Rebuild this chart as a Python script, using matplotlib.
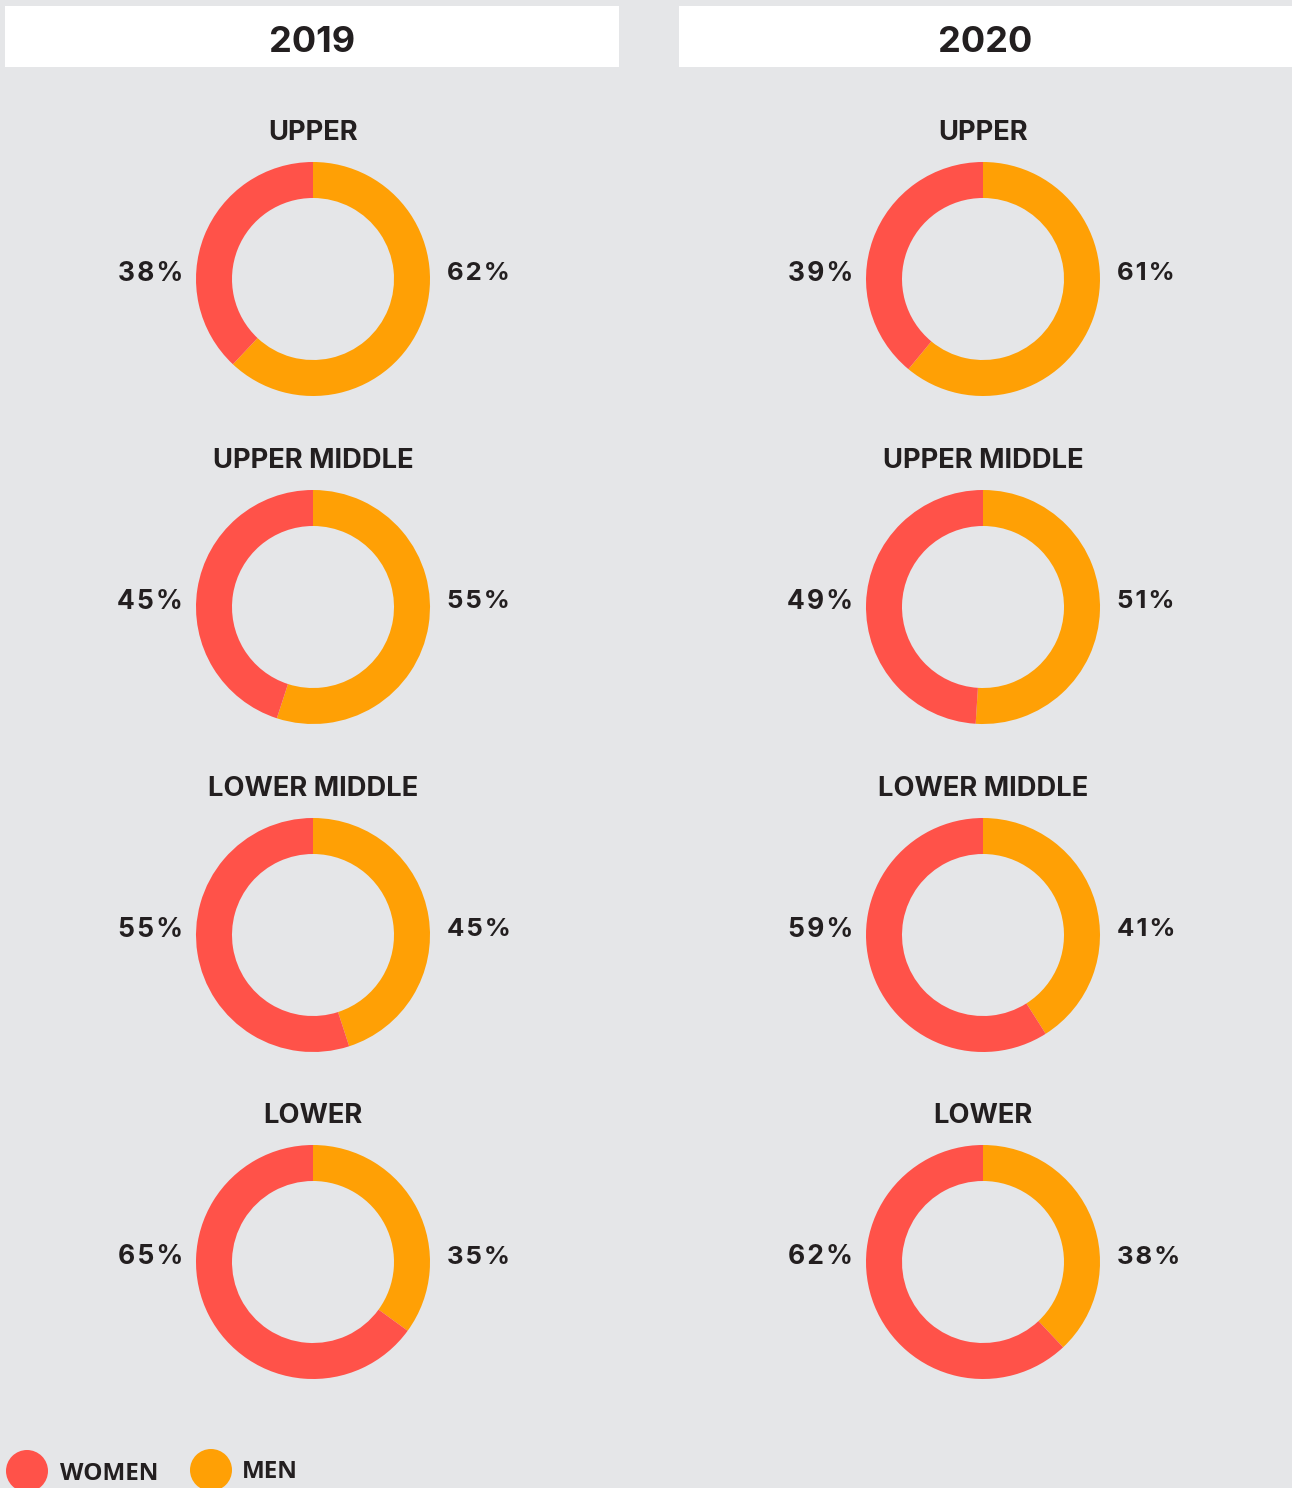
import matplotlib.pyplot as plt
from matplotlib.patches import Circle, Rectangle

years = ['2019', '2020']
levels = ['UPPER', 'UPPER MIDDLE', 'LOWER MIDDLE', 'LOWER']
women = {'2019': [38, 45, 55, 65], '2020': [39, 49, 59, 62]}
men = {'2019': [62, 55, 45, 35], '2020': [61, 51, 41, 38]}

RED = '#ff5249'
ORANGE = '#ffa005'
BG = '#e5e6e8'
INK = '#231f20'
W, H = 1292, 1488

plt.rcParams['font.family'] = ['Inter', 'DejaVu Sans']

fig = plt.figure(figsize=(W / 100, H / 100), dpi=100, facecolor=BG)
ax = fig.add_axes([0, 0, 1, 1])
ax.set_facecolor(BG)

def Y(y):
    # pixel-from-top to data coords
    return H - y

col_x = [313, 983]
row_y = [279, 607, 935, 1262]
title_y = [133, 461, 789, 1116]
r_out, r_in = 117, 81
sp = '\u200a'

# header boxes
ax.add_patch(Rectangle((5, Y(67)), 614, 61, facecolor='white', edgecolor='none'))
ax.add_patch(Rectangle((679, Y(67)), 620, 61, facecolor='white', edgecolor='none'))
ax.text(312, Y(43), '2019', ha='center', va='center', fontsize=26, fontweight='bold', color=INK)
ax.text(985, Y(43), '2020', ha='center', va='center', fontsize=26, fontweight='bold', color=INK)

for j, yr in enumerate(years):
    cx = col_x[j]
    for i, lev in enumerate(levels):
        cy = Y(row_y[i])
        ax.pie([men[yr][i], women[yr][i]], colors=[ORANGE, RED], startangle=90,
               counterclock=False, radius=r_out, center=(cx, cy), frame=True,
               wedgeprops=dict(width=r_out - r_in, edgecolor='none', linewidth=0))
        ax.text(cx, Y(title_y[i]), lev, ha='center', va='center',
                fontsize=19.7, fontweight='bold', color=INK)
        ax.text(cx - 130, cy + 5, sp.join(f'{women[yr][i]}%'), ha='right', va='center',
                fontsize=19, fontweight='bold', color=INK)
        ax.text(cx + 134, cy + 5, sp.join(f'{men[yr][i]}%'), ha='left', va='center',
                fontsize=18.5, fontweight='bold', color=INK)

# legend
ax.add_patch(Circle((27, Y(1471)), 21, facecolor=RED, edgecolor='none'))
ax.text(60, Y(1474), 'WOMEN', ha='left', va='center', fontsize=17.5,
        fontweight='bold', family=['Open Sans', 'DejaVu Sans'], color=INK)
ax.add_patch(Circle((211, Y(1470)), 21, facecolor=ORANGE, edgecolor='none'))
ax.text(242, Y(1472), 'MEN', ha='left', va='center', fontsize=17.5,
        fontweight='bold', family=['Open Sans', 'DejaVu Sans'], color=INK)

ax.set_xlim(0, W)
ax.set_ylim(0, H)
ax.set_aspect('auto')
ax.axis('off')

fig.savefig('out.png', dpi=100, facecolor=BG)
